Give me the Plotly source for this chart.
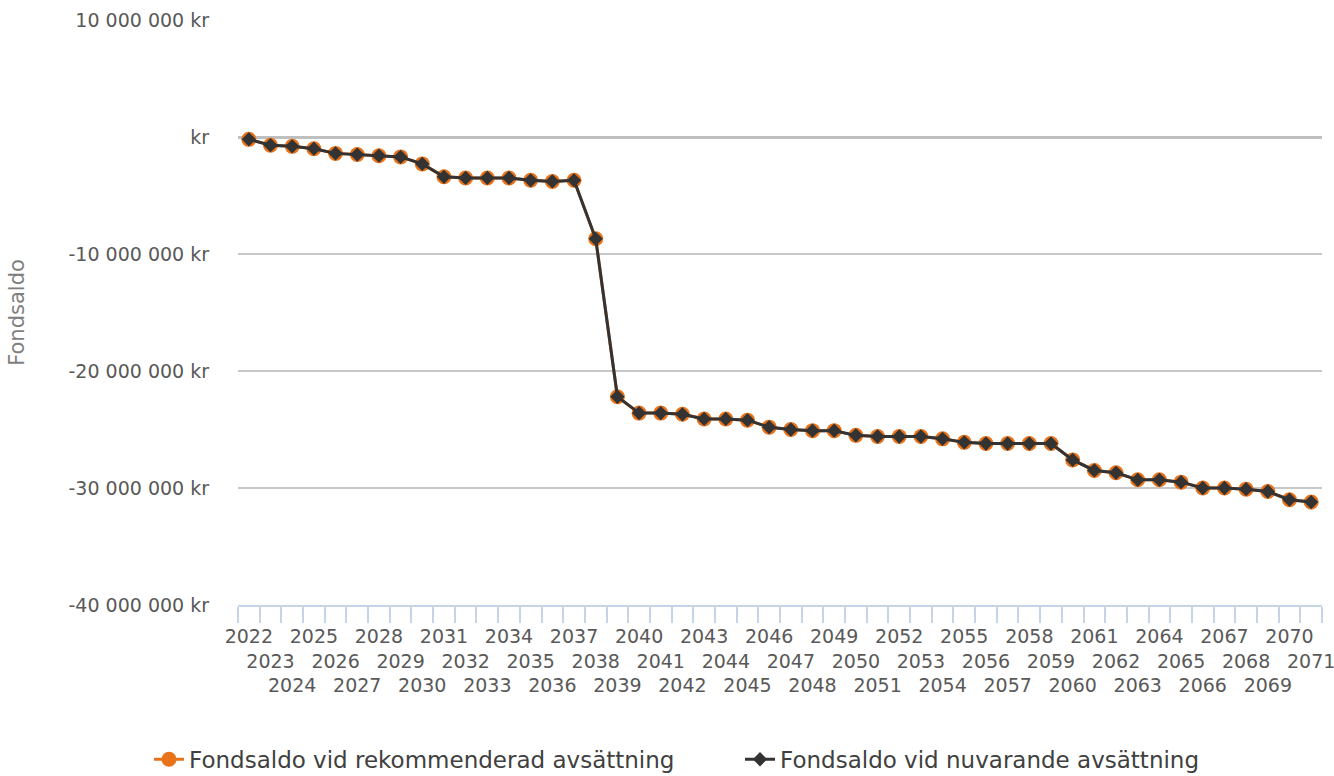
import plotly.graph_objects as go

years = [str(y) for y in range(2022, 2072)]
rekommenderad = [
    -0.2, -0.7, -0.8, -1.0, -1.4, -1.5, -1.6, -1.7, -2.3, -3.4,
    -3.5, -3.5, -3.5, -3.7, -3.8, -3.7, -8.7, -22.2, -23.6, -23.6,
    -23.7, -24.1, -24.1, -24.2, -24.8, -25.0, -25.1, -25.1, -25.5, -25.6,
    -25.6, -25.6, -25.8, -26.1, -26.2, -26.2, -26.2, -26.2, -27.6, -28.5,
    -28.7, -29.3, -29.3, -29.5, -30.0, -30.0, -30.1, -30.3, -31.0, -31.2,
]
nuvarande = list(rekommenderad)
rekommenderad = [v * 1_000_000 for v in rekommenderad]
nuvarande = [v * 1_000_000 for v in nuvarande]

y_tickvals = [-40_000_000, -30_000_000, -20_000_000, -10_000_000, 0, 10_000_000]
y_ticktext = ["-40 000 000 kr", "-30 000 000 kr", "-20 000 000 kr",
              "-10 000 000 kr", "kr", "10 000 000 kr"]

x_ticktext = ["<br>" * (i % 3) + y for i, y in enumerate(years)]

FONT = "DejaVu Sans"
fig = go.Figure()
fig.add_trace(go.Scatter(
    x=years, y=rekommenderad, mode="lines+markers",
    name="Fondsaldo vid rekommenderad avsättning",
    line=dict(color="#E8731A", width=3),
    marker=dict(symbol="circle", size=15, color="#E8731A"),
    legend="legend",
))
fig.add_trace(go.Scatter(
    x=years, y=nuvarande, mode="lines+markers",
    name="Fondsaldo vid nuvarande avsättning",
    line=dict(color="#333333", width=3),
    marker=dict(symbol="diamond", size=11, color="#333333"),
    legend="legend2",
))

legend_common = dict(
    orientation="h", xref="container", yref="container",
    xanchor="left", y=0.0215, yanchor="middle",
    font=dict(size=23, color="#404040"),
    itemwidth=30, bgcolor="rgba(0,0,0,0)",
)

fig.update_layout(
    width=1334, height=776,
    paper_bgcolor="white", plot_bgcolor="white",
    margin=dict(l=238, r=12, t=20, b=171, autoexpand=False),
    font=dict(family=FONT, color="#595959", size=19),
    showlegend=True,
    legend=dict(x=149 / 1334, **legend_common),
    legend2=dict(x=740 / 1334, **legend_common),
    xaxis=dict(
        type="category", automargin=False,
        tickmode="array", tickvals=years, ticktext=x_ticktext,
        tickangle=0,
        showgrid=False, showline=True, linecolor="#C5D4E6", linewidth=2,
        ticks="outside", tickson="boundaries", ticklen=16,
        tickcolor="#C5D4E6", tickwidth=2, ticklabelstandoff=13,
        tickfont=dict(size=19, color="#595959"),
        range=[-0.5, 49.5],
    ),
    yaxis=dict(
        automargin=False,
        range=[-40_000_000, 10_000_000],
        tickmode="array", tickvals=y_tickvals, ticktext=y_ticktext,
        showgrid=True, gridcolor="#C8C8C8", gridwidth=2,
        zeroline=True, zerolinecolor="#BFBFBF", zerolinewidth=3,
        showline=False, ticks="", ticklabelstandoff=28,
        tickfont=dict(size=19, color="#595959"),
        title=dict(text="Fondsaldo", font=dict(size=21, color="#7F7F7F"), standoff=38),
    ),
)

fig.write_html("out.html", config={"displayModeBar": False},
               post_script="document.body.style.margin='0';")
